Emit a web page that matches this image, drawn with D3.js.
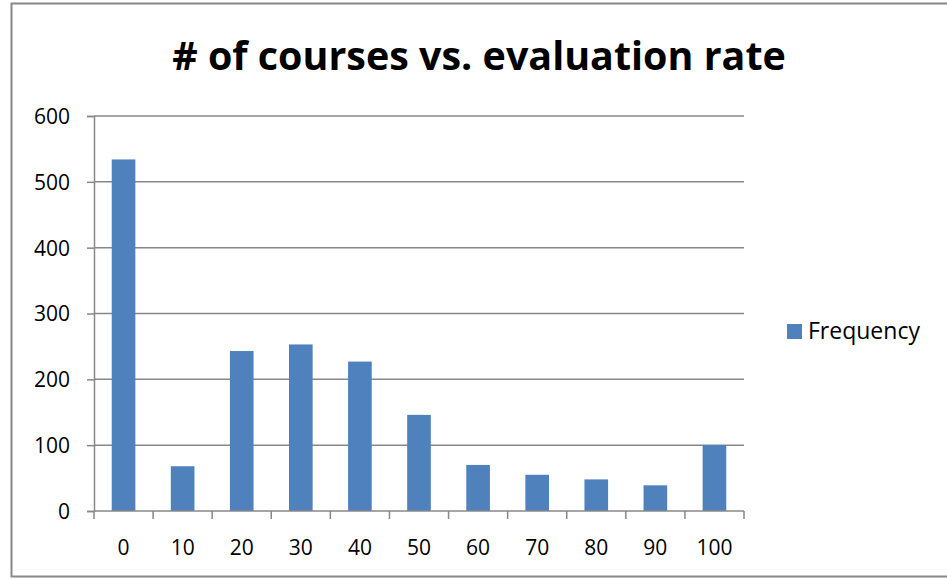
<!DOCTYPE html>
<html>
<head>
<meta charset="utf-8">
<script src="https://cdn.jsdelivr.net/npm/d3@7"></script>
<style>
  body { margin: 0; background: #fff; }
  svg { display: block; font-family: "Open Sans", "Noto Sans", sans-serif; }
</style>
</head>
<body>
<svg id="chart" width="947" height="579" viewBox="0 0 947 579"></svg>
<script>
// Data
const categories = ["0", "10", "20", "30", "40", "50", "60", "70", "80", "90", "100"];
const frequency = [534, 68, 243, 253, 227, 146, 70, 55, 48, 39, 100];
const y_ticks = [0, 100, 200, 300, 400, 500, 600];
const series_name = "Frequency";
const title_text = "# of courses vs. evaluation rate";

const svg = d3.select('#chart');
const grid_color = "#888888";
const bar_color = "#4f81bd";
const label_size = 21;

// Chart frame (right edge runs off the picture)
svg.append("rect")
    .attr("x", 11.5).attr("y", 3.5)
    .attr("width", 1000).attr("height", 573)
    .attr("fill", "#fff")
    .attr("stroke", grid_color)
    .attr("stroke-width", 2);

// Plot area
const plot_left = 94, plot_right = 744, plot_top = 116, plot_bottom = 511;

const x_scale = d3.scaleBand()
    .domain(categories)
    .range([plot_left, plot_right])
    .paddingInner(0.6)
    .paddingOuter(0.3);
const y_scale = d3.scaleLinear()
    .domain([0, 600])
    .range([plot_bottom, plot_top]);

// Gridlines
svg.append("g")
    .selectAll("line")
    .data(y_ticks.filter(d => d > 0))
    .enter()
    .append("line")
    .attr("x1", plot_left).attr("x2", plot_right)
    .attr("y1", d => y_scale(d)).attr("y2", d => y_scale(d))
    .attr("stroke", grid_color)
    .attr("stroke-width", 1.5);

// Bars
svg.append("g")
    .selectAll("rect")
    .data(frequency)
    .enter()
    .append("rect")
    .attr("x", (d, i) => x_scale(categories[i]))
    .attr("width", x_scale.bandwidth())
    .attr("y", d => y_scale(d))
    .attr("height", d => y_scale(0) - y_scale(d))
    .attr("fill", bar_color);

// Y axis
const y_axis = d3.axisLeft(y_scale)
    .tickValues(y_ticks)
    .tickSize(7)
    .tickPadding(17);
const gy = svg.append("g")
    .attr("transform", "translate(" + plot_left + ",0)")
    .attr("font-size", label_size)
    .attr("font-family", "\"Open Sans\", sans-serif")
    .call(y_axis)
    .attr("font-size", label_size)
    .attr("font-family", "\"Open Sans\", sans-serif");

// X axis: ticks sit at band boundaries, labels at band centres
const step = x_scale.step();
const boundaries = d3.range(categories.length + 1).map(i => plot_left + i * step);
const gx = svg.append("g");
gx.append("line")
    .attr("x1", plot_left).attr("x2", plot_right)
    .attr("y1", plot_bottom).attr("y2", plot_bottom)
    .attr("stroke", grid_color).attr("stroke-width", 1.5);
gx.selectAll("line.tick")
    .data(boundaries)
    .enter()
    .append("line")
    .attr("class", "tick")
    .attr("x1", d => d).attr("x2", d => d)
    .attr("y1", plot_bottom).attr("y2", plot_bottom + 8)
    .attr("stroke", grid_color).attr("stroke-width", 1.5);
gx.selectAll("text")
    .data(categories)
    .enter()
    .append("text")
    .attr("x", d => x_scale(d) + x_scale.bandwidth() / 2)
    .attr("y", 555)
    .attr("text-anchor", "middle")
    .attr("font-size", label_size)
    .attr("fill", "#000")
    .text(d => d);

gy.select(".domain").attr("stroke", grid_color).attr("stroke-width", 1.5);
gy.selectAll(".tick line").attr("stroke", grid_color).attr("stroke-width", 1.5);
gy.selectAll(".tick text")
    .attr("fill", "#000")
    .attr("dy", "0.35em");

// Title
const title = svg.append("text")
    .attr("x", 479)
    .attr("y", 70)
    .attr("text-anchor", "middle")
    .attr("font-weight", "bold")
    .attr("font-size", 36)
    .attr("fill", "#000")
    .text(title_text);
// fit title width to the reference
const tw = title.node().getComputedTextLength();
title.attr("font-size", 36 * 614 / tw);

// Legend
svg.append("rect")
    .attr("x", 787).attr("y", 324)
    .attr("width", 15).attr("height", 15)
    .attr("fill", bar_color);
svg.append("text")
    .attr("x", 808).attr("y", 339)
    .attr("font-size", 23)
    .attr("fill", "#000")
    .text(series_name);
</script>
</body>
</html>
